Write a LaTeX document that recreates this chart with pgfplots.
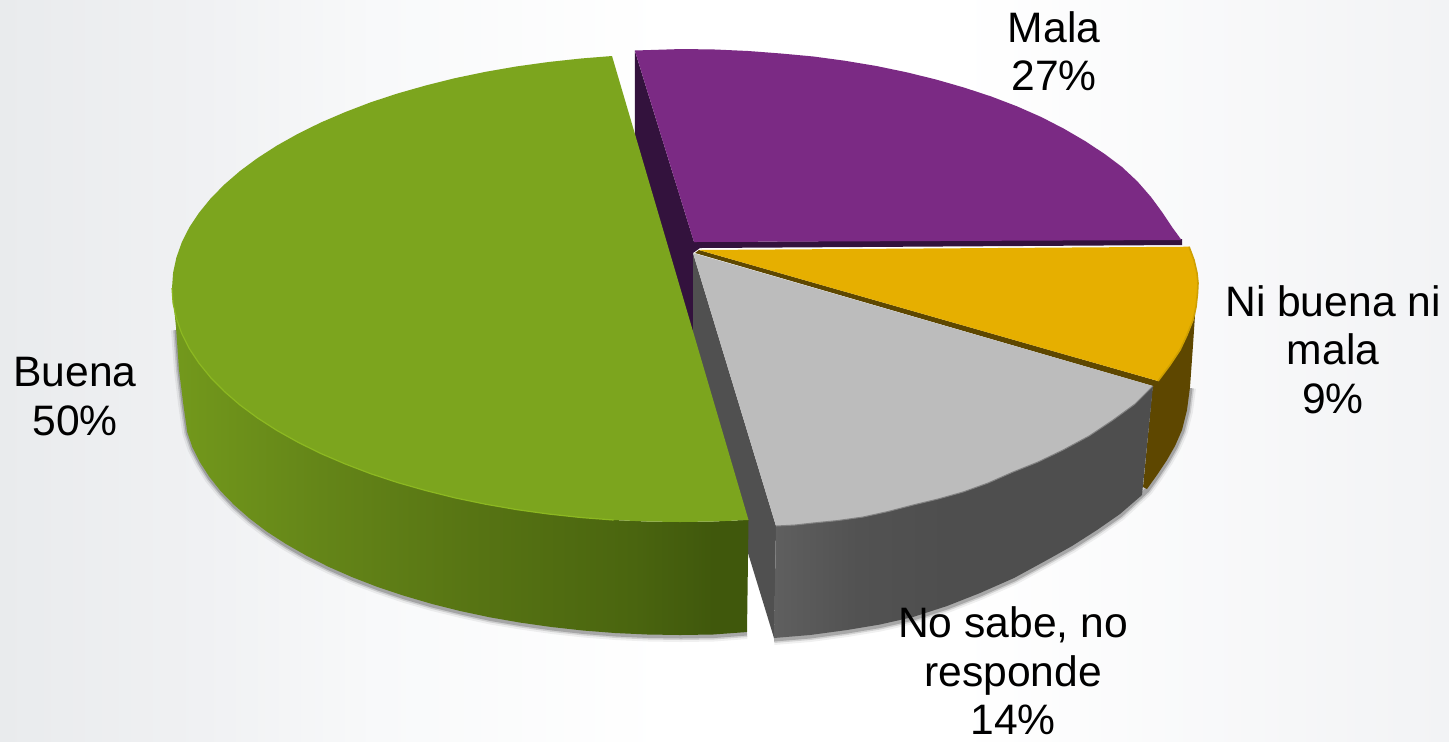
\documentclass[border=0pt]{standalone}
\usepackage{pgfplots}
\pgfplotsset{compat=1.18}
\usepackage{pgfplotstable}
\usepackage{fontspec}
\setmainfont{Liberation Sans}
\definecolor{purpletop}{HTML}{7B2A84}
\definecolor{purpledark}{HTML}{33123D}
\definecolor{goldtop}{HTML}{E6AF00}
\definecolor{goldedge}{HTML}{CFA000}
\definecolor{golddark}{HTML}{5E4700}
\definecolor{greytop}{HTML}{BCBCBC}
\definecolor{greywall}{HTML}{505050}
\definecolor{greenface}{HTML}{7CA51E}
\definecolor{greenlight}{HTML}{8CB821}
\definecolor{gA}{HTML}{73991C}
\definecolor{gB}{HTML}{648518}
\definecolor{gC}{HTML}{567313}
\definecolor{gD}{HTML}{4A650F}
\definecolor{gE}{HTML}{40580C}
\definecolor{sA}{HTML}{5F5F5F}
\definecolor{sB}{HTML}{525252}
\definecolor{sC}{HTML}{4E4E4E}
\definecolor{bgA}{HTML}{E9EBED}
\definecolor{bgB}{HTML}{F0F1F3}
\definecolor{bgE}{HTML}{F8F9FA}
\definecolor{bgC}{HTML}{FFFFFF}
\definecolor{bgD}{HTML}{F2F3F5}
\pgfdeclarehorizontalshading{greenside}{100bp}{color(0bp)=(gA); color(25bp)=(gA); color(38bp)=(gB); color(52bp)=(gC); color(65bp)=(gD); color(72bp)=(gE); color(100bp)=(gE)}
\pgfdeclarehorizontalshading{greyside}{100bp}{color(0bp)=(sA); color(25bp)=(sA); color(36bp)=(sB); color(48bp)=(sC); color(100bp)=(sC)}
\pgfdeclarehorizontalshading{bgshade}{100bp}{color(0bp)=(bgA); color(25bp)=(bgA); color(32bp)=(bgB); color(38bp)=(bgE); color(48bp)=(bgC); color(58bp)=(bgC); color(75bp)=(bgD); color(100bp)=(bgD)}
\pgfplotstableread{
x y
177 330
180 370
184 403
188.3 433
193.5 448.5
201 463
210.4 478
221.8 492
235.2 506
250.6 519.5
267.7 532.5
286.7 545
307.4 557
329.6 568
353.3 578.5
378.4 588
404.9 597
432.5 605
461.2 612
490.8 618.5
521.3 623.6
552.4 628
584 631.5
616.1 634
648.5 635.5
681 636
714 635.5
747 633
}\shadowgreen
\pgfplotstableread{
x y
774 639
810 636
847 631
880 625.5
913 618
947 607
980 594
1014 579
1047 561
1072 547
1097 531
1120 515
1147 490
1157 476
1167 461
1175 447
1182 431
1187 411
1190 388
}\shadowgrey
\begin{document}
\begin{tikzpicture}
\begin{axis}[
  width=724.5pt, height=370.5pt, scale only axis, hide axis,
  xmin=0, xmax=1449, ymin=0, ymax=741, y dir=reverse]
% background
\addplot[draw=none, shading=bgshade] coordinates {(0,0)(1449,0)(1449,741)(0,741)} --cycle;
% soft shadows
\addplot[draw=black, line width=6pt, opacity=0.06, line join=round] table[x=x,y=y] {\shadowgreen};
\addplot[draw=black, line width=4pt, opacity=0.12, line join=round] table[x=x,y=y] {\shadowgreen};
\addplot[draw=black, line width=2.5pt, opacity=0.20, line join=round] table[x=x,y=y] {\shadowgreen};
\addplot[draw=black, line width=6pt, opacity=0.06, line join=round] table[x=x,y=y] {\shadowgrey};
\addplot[draw=black, line width=4pt, opacity=0.12, line join=round] table[x=x,y=y] {\shadowgrey};
\addplot[draw=black, line width=2.5pt, opacity=0.20, line join=round] table[x=x,y=y] {\shadowgrey};
% Mala: dark walls, then top
\addplot[draw=none, fill=purpledark] coordinates {(634.8,50.7)(694,242)(1182,239)(1182,245)(700,248)(693,253)(693,335)(634.8,135)} --cycle;
\addplot[draw=none, fill=purpletop] coordinates {(634.8,50.5)(682,49)(715.2,49.5)(748.3,51)(781.1,53.5)(813.5,56.5)(845.3,60.8)(876.4,66)(906.7,72.3)(936,79.5)(964.2,87.6)(991.3,96.5)(1016.9,106.3)(1041.2,117)(1063.9,128.7)(1085,141)(1104.4,153.8)(1122,167)(1137.5,181.5)(1151,197)(1162,212)(1172,227)(1181.5,240)(694,242)} --cycle;
% Ni buena ni mala
\addplot[draw=none, fill=golddark] coordinates {(1153,383)(1158,381)(1180,350)(1193,320)(1196,300)(1193,345)(1190,387)(1187,410)(1182,430)(1175,446)(1167,460)(1157,475)(1147,489)(1143,487)} --cycle;
\addplot[draw=none, fill=golddark] coordinates {(699,250)(1158,381)(1153,386)(695,253)} --cycle;
\addplot[draw=none, fill=goldtop] coordinates {(699,250)(1189,246.7)(1194,260)(1197,273)(1198,283)(1197.5,293)(1196,307)(1193,320)(1187,335)(1180,350)(1170,365)(1158,381)} --cycle;
\addplot[draw=goldedge, line width=0.8pt] coordinates {(1189,246.7)(1194,260)(1197,273)(1198,283)(1197.5,293)(1196,307)(1193,320)(1187,335)(1180,350)(1170,365)(1158,381)};
% No sabe, no responde
\addplot[draw=none, fill=greywall] coordinates {(693,253)(776,526)(774,638)(748,553)(693,373)} --cycle;
\addplot[draw=none, shading=greyside] coordinates {(776,526)(795,525)(813,523)(838,520.5)(863,517)(888,511.5)(913,505)(938,499)(963,492)(988,483)(1013,472)(1038,462)(1063,450)(1089,436)(1113,420)(1135,404)(1153,386)(1142,495)(1120,514)(1097,530)(1072,546)(1047,560)(1014,578)(980,593)(947,606)(913,617)(880,624.5)(847,630)(810,635)(774,638)} --cycle;
\addplot[draw=none, fill=greytop] coordinates {(693,253)(1153,386)(1135,404)(1113,420)(1089,436)(1063,450)(1038,462)(1013,472)(988,483)(963,492)(938,499)(913,505)(888,511.5)(863,517)(838,520.5)(813,523)(795,525)(776,526)} --cycle;
\addplot[draw=gray, line width=0.5pt] coordinates {(1153,386)(1135,404)(1113,420)(1089,436)(1063,450)(1038,462)(1013,472)(988,483)(963,492)(938,499)(913,505)(888,511.5)(863,517)(838,520.5)(813,523)(795,525)(776,526)};
% Buena
\addplot[draw=none, shading=greenside] coordinates {(172,288)(173.1,303.3)(176.4,318.5)(181.8,333.7)(189.3,348.6)(199,363.2)(210.7,377.6)(224.4,391.5)(240,405)(257.6,418)(277,430.5)(298.1,442.3)(320.8,453.5)(345.1,463.9)(370.7,473.7)(397.8,482.6)(426,490.6)(455.3,497.9)(485.6,504.2)(516.7,509.6)(548.5,514)(580.9,517.5)(613.7,520)(646.8,521.5)(680,522)(713.2,521.5)(748.5,520)(747,632)(713,634.5)(680,635)(647.5,634.5)(615.1,633)(583,630.5)(551.4,627)(520.3,622.6)(489.8,617.3)(460.2,611)(431.5,603.8)(403.9,595.7)(377.4,586.9)(352.3,577.2)(328.6,566.8)(306.4,555.6)(285.7,543.8)(266.7,531.5)(249.6,518.5)(234.2,505)(220.8,491.2)(209.4,476.9)(200,462.3)(192.5,447.5)(187.3,432.4)(183,402)(179,370)(176,327)} --cycle;
\addplot[draw=none, fill=greenface] coordinates {(612,56)(580.9,58.5)(548.5,62)(516.7,66.4)(485.6,71.8)(455.3,78.1)(426,85.4)(397.8,93.4)(370.7,102.3)(345.1,112.1)(320.8,122.5)(298.1,133.7)(277,145.5)(257.6,158)(240,171)(224.4,184.5)(210.7,198.4)(199,212.8)(189.3,227.4)(181.8,242.3)(176.4,257.5)(173.1,272.7)(172,288)(173.1,303.3)(176.4,318.5)(181.8,333.7)(189.3,348.6)(199,363.2)(210.7,377.6)(224.4,391.5)(240,405)(257.6,418)(277,430.5)(298.1,442.3)(320.8,453.5)(345.1,463.9)(370.7,473.7)(397.8,482.6)(426,490.6)(455.3,497.9)(485.6,504.2)(516.7,509.6)(548.5,514)(580.9,517.5)(613.7,520)(646.8,521.5)(680,522)(713.2,521.5)(748.5,520)} --cycle;
\addplot[draw=greenlight, line width=0.6pt] coordinates {(172,288)(173.1,303.3)(176.4,318.5)(181.8,333.7)(189.3,348.6)(199,363.2)(210.7,377.6)(224.4,391.5)(240,405)(257.6,418)(277,430.5)(298.1,442.3)(320.8,453.5)(345.1,463.9)(370.7,473.7)(397.8,482.6)(426,490.6)(455.3,497.9)(485.6,504.2)(516.7,509.6)(548.5,514)(580.9,517.5)(613.7,520)};
% labels
\node[inner sep=0pt, overlay, align=center, font=\fontsize{21.3}{24.2}\selectfont] at (axis cs:1054,51) {Mala\\27\%};
\node[inner sep=0pt, overlay, align=center, font=\fontsize{21.3}{24.2}\selectfont] at (axis cs:75,396.5) {Buena\\50\%};
\node[inner sep=0pt, overlay, align=center, font=\fontsize{21.3}{24.2}\selectfont] at (axis cs:1333,349.5) {Ni buena ni\\mala\\9\%};
\node[inner sep=0pt, overlay, align=center, font=\fontsize{21.3}{24.2}\selectfont] at (axis cs:1013,671) {No sabe, no\\responde\\14\%};
\end{axis}
\end{tikzpicture}
\end{document}
